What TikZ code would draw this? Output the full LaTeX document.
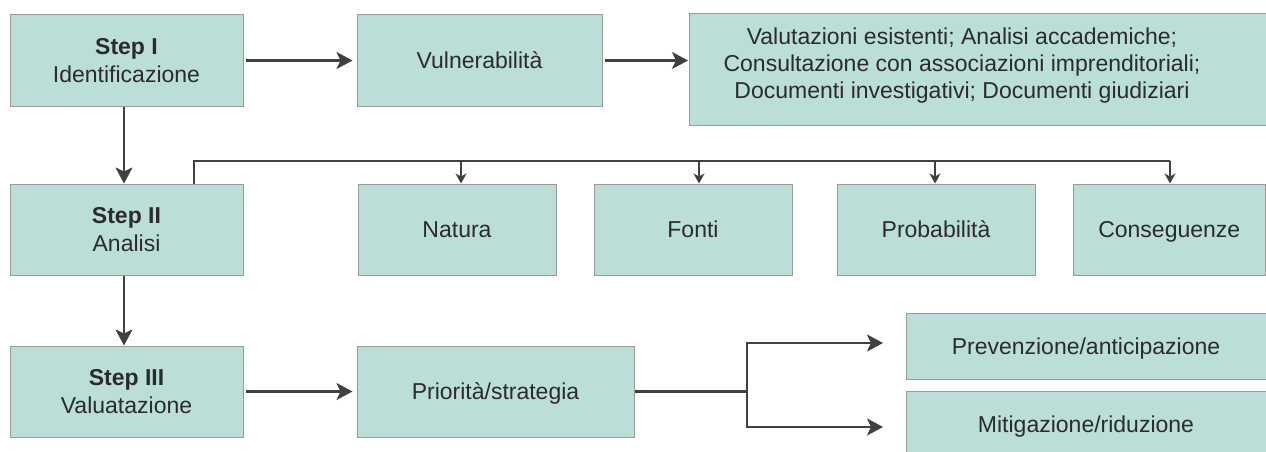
\documentclass[tikz,border=0pt]{standalone}
\usepackage{fontspec}
\setmainfont{Liberation Sans}
\usetikzlibrary{arrows.meta}
\definecolor{boxfill}{HTML}{BCDED8}
\definecolor{boxline}{HTML}{9A9A9A}
\definecolor{txt}{HTML}{2B2B2B}
\definecolor{arr}{HTML}{404040}
\begin{document}
\begin{tikzpicture}[x=1pt,y=-1pt,
  box/.style={draw=boxline, line width=1pt, fill=boxfill, text=txt,
    font=\fontsize{23}{28}\selectfont, align=center, inner sep=0pt},
  oneline/.style={text height=16.5pt, text depth=0pt},
  label text/.style={text=txt, font=\fontsize{23}{27}\selectfont, align=center, inner sep=0pt},
  flow/.style={draw=arr, line width=2.3pt, -{Stealth[length=16pt,width=17pt,inset=4pt]}},
  plain/.style={draw=arr, line width=2.2pt},
  branch/.style={draw=arr, line width=2pt, -{Stealth[length=10pt,width=11pt,inset=3pt]}}]
\useasboundingbox (0,0) rectangle (1266,452);
\clip (0,0) rectangle (1266,452);
% row 1
\node[box, minimum width=233pt, minimum height=91pt] (s1) at (126.5,60.5) {\textbf{Step I}\\Identificazione};
\node[box, oneline, minimum width=245pt, minimum height=91pt] (vul) at (479.5,60.5) {Vulnerabilità};
\node[box, minimum width=576.5pt, minimum height=112pt, anchor=north west] (src) at (689,13) {};
\node[label text] (srct) at (962,66) {Valutazioni esistenti; Analisi accademiche;\\Consultazione con associazioni imprenditoriali;\\Documenti investigativi; Documenti giudiziari};
% row 2
\node[box, minimum width=233pt, minimum height=91pt] (s2) at (126.5,229.5) {\textbf{Step II}\\Analisi};
\node[box, oneline, minimum width=198pt, minimum height=91pt] (nat) at (457,229.5) {Natura};
\node[box, oneline, minimum width=198pt, minimum height=91pt] (fon) at (693,229.5) {Fonti};
\node[box, oneline, minimum width=198pt, minimum height=91pt] (pro) at (936,229.5) {Probabilità};
\node[box, oneline, minimum width=192.5pt, minimum height=91pt] (con) at (1169.25,229.5) {Conseguenze};
% row 3
\node[box, minimum width=233pt, minimum height=91pt] (s3) at (126.5,391.5) {\textbf{Step III}\\Valuatazione};
\node[box, oneline, minimum width=277pt, minimum height=91pt] (pri) at (495.5,391.5) {Priorità/strategia};
\node[box, oneline, minimum width=360pt, minimum height=66pt] (pre) at (1086,346) {Prevenzione/anticipazione};
\node[box, oneline, minimum width=360pt, minimum height=66pt] (mit) at (1086,424) {Mitigazione/riduzione};
% connectors row 1
\draw[flow, shorten <=2pt, shorten >=4pt] (s1.east) -- (vul.west);
\draw[flow, shorten <=2pt, shorten >=1pt] (vul.east) -- (src.west |- vul.east);
% vertical steps
\draw[flow] ([xshift=-2.5pt]s1.south) -- ([xshift=-2.5pt]s2.north);
\draw[flow] ([xshift=-2.5pt]s2.south) -- ([xshift=-2.5pt]s3.north);
% branch row 2
\coordinate (b0) at (194,161);
\coordinate (b4) at (1170,161);
\draw[plain, line width=2pt] (s2.north -| b0) -- (b0) -- (b4);
\draw[branch] (b0 -| 461,0) -- (nat.north -| 461,0);
\draw[branch] (b0 -| 699,0) -- (fon.north -| 699,0);
\draw[branch] (b0 -| 935,0) -- (pro.north -| 935,0);
\draw[branch] (b4) -- (con.north -| b4);
% row 3
\draw[flow, shorten <=2pt, shorten >=4pt] (s3.east) -- (pri.west);
\coordinate (fork) at (747,391.5);
\coordinate (pt) at (883,343);
\coordinate (mt) at (883,427);
\draw[plain] (pri.east) -- (fork);
\draw[flow] (fork) |- (pt);
\draw[flow] (fork) |- (mt);
\end{tikzpicture}
\end{document}
